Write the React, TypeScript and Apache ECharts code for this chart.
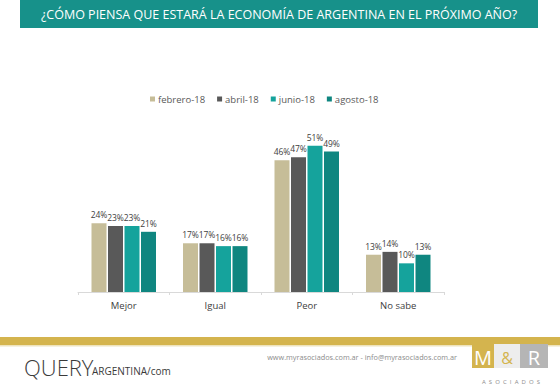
import React, { useEffect, useRef } from "react";
import * as echarts from "echarts";

const categories = ["Mejor", "Igual", "Peor", "No sabe"];
const seriesNames = ["febrero-18", "abril-18", "junio-18", "agosto-18"];
const febrero = [24, 17, 46, 13];
const abril = [23, 17, 47, 14];
const junio = [23, 16, 51, 10];
const agosto = [21, 16, 49, 13];
const colors = ["#C6BD98", "#595959", "#15A39C", "#0F8680"];

const titleText = "¿CÓMO PIENSA QUE ESTARÁ LA ECONOMÍA DE ARGENTINA EN EL PRÓXIMO AÑO?";
const footerUrl = "www.myrasociados.com.ar - info@myrasociados.com.ar";

export default function App() {
  const ref = useRef<HTMLDivElement>(null);
  useEffect(() => {
    if (!ref.current) return;
    const chart = echarts.init(ref.current, undefined, { renderer: "svg" });
    const data = [febrero, abril, junio, agosto];
    const font = "'Open Sans', sans-serif";
    chart.setOption({
      animation: false,
      backgroundColor: "#ffffff",
      textStyle: { fontFamily: font },
      legend: {
        data: seriesNames,
        left: 145,
        top: 89,
        itemWidth: 5,
        itemHeight: 5,
        itemGap: 12,
        icon: "rect",
        textStyle: { fontSize: 9.5, color: "#595959", fontFamily: font, padding: [0, 0, 0, -2] },
      },
      grid: { left: 78, right: 116, top: 120, bottom: 96 },
      xAxis: {
        type: "category",
        data: categories,
        axisLine: { lineStyle: { color: "#D9D9D9" } },
        axisTick: { show: true, length: 3, lineStyle: { color: "#D9D9D9" } },
        axisLabel: { fontSize: 9.5, color: "#404040", margin: 8, fontFamily: font },
      },
      yAxis: {
        type: "value",
        min: 0,
        max: 60,
        show: false,
        splitLine: { show: false },
      },
      series: seriesNames.map((name, i) => ({
        name,
        type: "bar",
        data: data[i],
        barWidth: 15,
        barGap: "10%",
        itemStyle: { color: colors[i] },
        label: {
          show: true,
          position: "top",
          distance: 4,
          formatter: "{c}%",
          fontSize: 8.5,
          color: "#404040",
          fontFamily: font,
        },
      })),
      graphic: [
        { type: "rect", shape: { x: 20, y: 0, width: 518, height: 28 }, style: { fill: "#17918A" } },
        {
          type: "text",
          x: 279,
          y: 14,
          style: {
            text: titleText,
            fill: "#ffffff",
            fontSize: 12.5,
            fontFamily: font,
            align: "center",
            verticalAlign: "middle",
          },
        },
        { type: "rect", shape: { x: 0, y: 337, width: 560, height: 8 }, style: { fill: "#D4B44E" } },
        { type: "rect", shape: { x: 0, y: 345, width: 560, height: 1.5 }, style: { fill: "#EEE3BD" } },
        {
          type: "text",
          x: 24,
          y: 378,
          style: { text: "QUERY", fill: "#3a3a3a", fontSize: 22, fontFamily: font, fontWeight: 300, verticalAlign: "bottom" },
        },
        {
          type: "text",
          x: 92,
          y: 376,
          style: { text: "ARGENTINA/com", fill: "#3a3a3a", fontSize: 10, fontFamily: font, verticalAlign: "bottom" },
        },
        {
          type: "text",
          x: 457,
          y: 357,
          style: { text: footerUrl, fill: "#8c8c8c", fontSize: 7.3, fontFamily: font, align: "right", verticalAlign: "middle" },
        },
        { type: "rect", shape: { x: 472, y: 344, width: 22, height: 24 }, style: { fill: "#D4B44E" } },
        { type: "rect", shape: { x: 494, y: 344, width: 26, height: 24 }, style: { fill: "#EDEDED" } },
        { type: "rect", shape: { x: 520, y: 344, width: 28, height: 24 }, style: { fill: "#B5B5B5" } },
        {
          type: "text", x: 483, y: 357,
          style: { text: "M", fill: "#ffffff", fontSize: 20, fontFamily: font, align: "center", verticalAlign: "middle" },
        },
        {
          type: "text", x: 507, y: 358,
          style: { text: "&", fill: "#D4B44E", fontSize: 16, fontFamily: font, align: "center", verticalAlign: "middle" },
        },
        {
          type: "text", x: 534, y: 357,
          style: { text: "R", fill: "#ffffff", fontSize: 20, fontFamily: font, align: "center", verticalAlign: "middle" },
        },
        {
          type: "text", x: 511, y: 382,
          style: { text: "A  S  O  C  I  A  D  O  S", fill: "#8c8c8c", fontSize: 6, fontFamily: font, align: "center", verticalAlign: "middle" },
        },
      ],
    });
    return () => chart.dispose();
  }, []);
  return <div ref={ref} style={{ position: "fixed", left: 0, top: 0, width: 560, height: 388 }} />;
}
